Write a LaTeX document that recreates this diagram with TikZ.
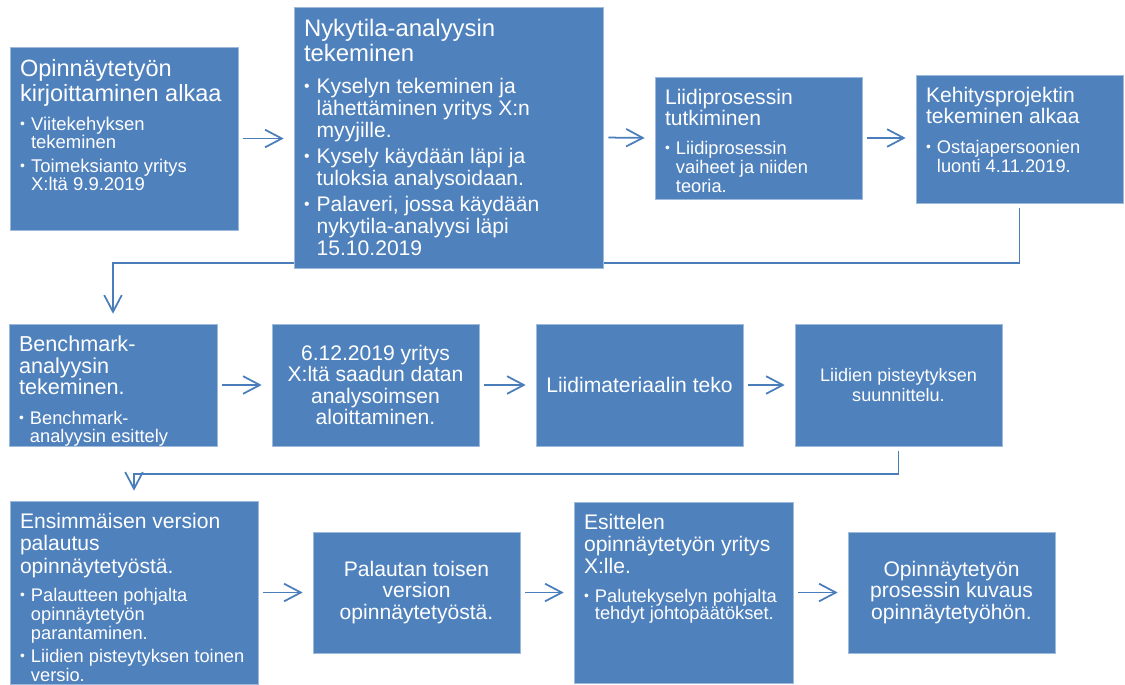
\documentclass[tikz,border=0pt]{standalone}
\usepackage{fontspec}
\setmainfont{Liberation Sans}
\usetikzlibrary{arrows.meta,backgrounds}
\definecolor{boxblue}{HTML}{4F81BD}
\definecolor{flowblue}{HTML}{4A7EBB}
\colorlet{boxrim}{boxblue!55!white}
% one bullet item, second line hangs under the text
\newcommand{\bul}{\par\vspace{2.3pt}\hangindent=0.6em\hangafter=1\noindent\makebox[0.6em][l]{\raisebox{0.08em}{\scalebox{0.75}{\textbullet}}}}
\begin{document}
\begin{tikzpicture}[x=0.02cm, y=-0.02cm]
        \useasboundingbox (0,0) rectangle (1125,684);
        \begin{scope}
            \tikzstyle{every node}=[fill=boxblue, draw=boxrim, line width=0.4pt, text=white, inner sep=0pt]
            \tikzstyle{stage}=[inner xsep=0.2cm, inner ysep=0.24cm]
            \tikzstyle{centered}=[align=center, minimum width=4.14cm, minimum height=2.44cm, font=\fontsize{12}{12.3}\selectfont]
            % first row
            \node[stage] (alku) at (124,138.5) {\parbox[c][3.18cm][t]{4.16cm}{%
                \fontsize{13.4}{14.2}\selectfont Opinnäytetyön\\kirjoittaminen alkaa\par
                \fontsize{10.5}{10.8}\selectfont\vspace{3.4pt}
                \bul Viitekehyksen\\tekeminen
                \bul Toimeksianto yritys\\X:ltä 9.9.2019}};
            \node[stage] (nykytila) at (448.5,137.5) {\parbox[c][4.74cm][t]{5.78cm}{%
                \fontsize{13.6}{14.2}\selectfont Nykytila-analyysin\\tekeminen\par
                \fontsize{12}{12.5}\selectfont\vspace{3.4pt}
                \bul Kyselyn tekeminen ja\\lähettäminen yritys X:n\\myyjille.
                \bul Kysely käydään läpi ja\\tuloksia analysoidaan.
                \bul Palaveri, jossa käydään\\nykytila-analyysi läpi\\15.10.2019}};
            \node[stage] (liidi) at (758.5,138) {\parbox[c][1.96cm][t]{3.74cm}{%
                \fontsize{12}{12}\selectfont Liidiprosessin\\tutkiminen\par
                \fontsize{10.4}{10.8}\selectfont\vspace{3.4pt}
                \bul Liidiprosessin\\vaiheet ja niiden\\teoria.}};
            \node[stage] (kehitys) at (1019.5,139) {\parbox[c][2.08cm][t]{3.74cm}{%
                \fontsize{12}{11.9}\selectfont Kehitysprojektin\\tekeminen alkaa\par
                \fontsize{10.4}{10.8}\selectfont\vspace{3.9pt}
                \bul Ostajapersoonien\\luonti 4.11.2019.}};
            % second row
            \node[stage] (bench) at (113,385) {\parbox[c][1.96cm][t]{3.76cm}{%
                \fontsize{12.3}{12.2}\selectfont Benchmark-\\analyysin\\tekeminen.\par
                \fontsize{10.4}{10.2}\selectfont\vspace{4.5pt}
                \bul Benchmark-\\analyysin esittely}};
            \node[centered, font=\fontsize{12}{12.1}\selectfont] (data) at (375.5,385) {6.12.2019 yritys\\X:ltä saadun datan\\analysoimsen\\aloittaminen.};
            \node[centered] (materiaali) at (639.5,385) {Liidimateriaalin teko};
            \node[centered, font=\fontsize{10.3}{11.3}\selectfont] (pisteet) at (898.5,385) {Liidien pisteytyksen\\suunnittelu.};
            % third row
            \node[stage] (versio1) at (134,592.5) {\parbox[c][3.18cm][t]{4.56cm}{%
                \fontsize{12}{12.8}\selectfont Ensimmäisen version\\palautus\\opinnäytetyöstä.\par
                \fontsize{10.4}{10.8}\selectfont\vspace{2.8pt}
                \bul Palautteen pohjalta\\opinnäytetyön\\parantaminen.
                \bul Liidien pisteytyksen toinen\\versio.}};
            \node[centered, minimum height=2.42cm] (versio2) at (416.5,592.5) {Palautan toisen\\version\\opinnäytetyöstä.};
            \node[stage] (esittely) at (683.5,592.5) {\parbox[c][3.14cm][t]{3.98cm}{%
                \fontsize{12}{12.5}\selectfont Esittelen\\opinnäytetyön yritys\\X:lle.\par
                \fontsize{10.4}{10.2}\selectfont\vspace{3.9pt}
                \bul Palutekyselyn pohjalta\\tehdyt johtopäätökset.}};
            \node[centered, minimum height=2.42cm] (kuvaus) at (951.5,592.5) {Opinnäytetyön\\prosessin kuvaus\\opinnäytetyöhön.};
        \end{scope}
        \begin{scope}
            \tikzstyle{every edge}=[draw=flowblue, line width=1pt, -{Straight Barb[length=9.5pt,width=10pt]}, shorten <=0.1cm, shorten >=0.2cm]
            \path
            (alku.east) edge[] (alku.east -| nykytila.west)
            (nykytila.east) edge[] (liidi.west)
            (liidi.east) edge[] (liidi.east -| kehitys.west)
            (bench.east) edge[] (data.west)
            (data.east) edge[] (materiaali.west)
            (materiaali.east) edge[] (pisteet.west)
            (versio1.east) edge[] (versio2.west)
            (versio2.east) edge[] (esittely.west)
            (esittely.east) edge[] (kuvaus.west);
        \end{scope}
        \begin{scope}[on background layer]
            \tikzstyle{every edge}=[draw=flowblue, line width=1pt, -{Straight Barb[length=9.5pt,width=10pt]}, shorten <=0.1cm, shorten >=0.2cm]
            \path
            (kehitys.south) edge[to path={-- ++(0,60) -| (\tikztotarget)}] (bench.north)
            (pisteet.south) edge[to path={-- ++(0,27.5) -| (\tikztotarget)}] (versio1.north);
        \end{scope}
    \end{tikzpicture}
\end{document}
